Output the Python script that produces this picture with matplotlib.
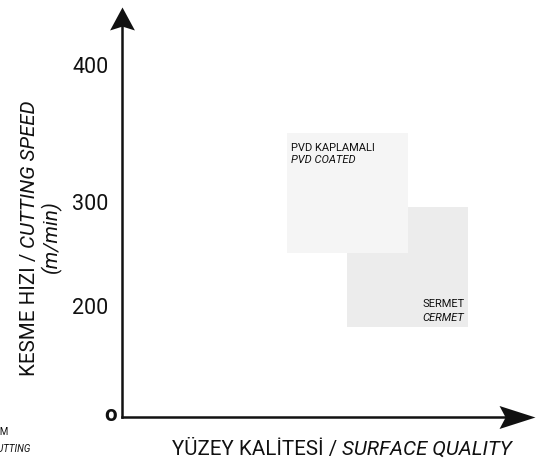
import numpy as np
import matplotlib.pyplot as plt
from matplotlib.path import Path

plt.rcParams['font.family'] = ['Roboto', 'DejaVu Sans']

# eksen degerleri (kesme hizi, m/min)
hiz_degerleri = [0, 200, 300, 400]
hiz_etiketleri = ['o', '200', '300', '400']

# malzeme bolgeleri (kalite 0-100, hiz m/min)
malzeme_tr = ['PVD KAPLAMALI', 'SERMET']
malzeme_en = ['PVD COATED', 'CERMET']
kalite_min = [41.2, 56.3]
kalite_max = [71.4, 86.6]
hiz_min = [253, 165.5]
hiz_max = [352.2, 296.9]

renkler = ['#f5f5f5', '#ececec']
koyu = '#111111'

# diyagram olceklenmemis: hiz ekseni parca parca dogrusal
hiz_knot = [-100, 0, 200, 300, 400, 600]
ekran_knot = [-51, 2, 108, 213, 349.5, 622.5]


def ileri(v):
    return np.interp(v, hiz_knot, ekran_knot)


def geri(d):
    return np.interp(d, ekran_knot, hiz_knot)


fig = plt.figure(figsize=(5.51, 4.59), dpi=100)
ax = fig.add_axes([0, 0, 1, 1])
ax.set_yscale('function', functions=(ileri, geri))
ax.set_xlim(-30.5, 107.25)
ax.set_ylim(float(geri(-42)), float(geri(417)))
ax.axis('off')

y0 = float(geri(0))

# bolgeler (arkadaki once)
for i in [1, 0]:
    ax.bar(kalite_min[i], hiz_max[i] - hiz_min[i], width=kalite_max[i] - kalite_min[i],
           bottom=hiz_min[i], align='edge', color=renkler[i], linewidth=0, zorder=1 + (1 - i))

ax.annotate(malzeme_tr[0], xy=(kalite_min[0], hiz_max[0]), xytext=(4, -18),
            textcoords='offset pixels', fontsize=8, va='baseline', ha='left', color=koyu, zorder=5)
ax.annotate(malzeme_en[0], xy=(kalite_min[0], hiz_max[0]), xytext=(4, -30),
            textcoords='offset pixels', fontsize=8, va='baseline', ha='left', style='italic',
            color=koyu, zorder=5)
ax.annotate(malzeme_tr[1], xy=(kalite_max[1], hiz_min[1]), xytext=(-4, 20),
            textcoords='offset pixels', fontsize=8, va='baseline', ha='right', color=koyu, zorder=5)
ax.annotate(malzeme_en[1], xy=(kalite_max[1], hiz_min[1]), xytext=(-4, 6.5),
            textcoords='offset pixels', fontsize=8, va='baseline', ha='right', style='italic',
            color=koyu, zorder=5)

# eksen cizgileri
y_ucu = float(geri(410))
x_ucu = 103.25
ax.plot([0, 0], [y0, float(geri(395))], color=koyu, lw=1.8, solid_capstyle='projecting', zorder=6)
ax.plot([0, x_ucu - 6], [y0, y0], color=koyu, lw=1.8, solid_capstyle='projecting', zorder=6)

# ok uclari (ici bos tabanli)
ok_sag = Path([(0, 0), (-1, 0.32), (-0.83, 0), (-1, -0.32), (0, 0)],
              [Path.MOVETO, Path.LINETO, Path.LINETO, Path.LINETO, Path.CLOSEPOLY])
ok_yukari = Path([(0, 0), (0.54, -1), (0, -0.83), (-0.54, -1), (0, 0)],
                 [Path.MOVETO, Path.LINETO, Path.LINETO, Path.LINETO, Path.CLOSEPOLY])
ax.plot([x_ucu], [y0], marker=ok_sag, markersize=51.8, color=koyu, mew=0, zorder=7)
ax.plot([0], [y_ucu], marker=ok_yukari, markersize=33.1, color=koyu, mew=0, zorder=7)

# hiz etiketleri
for v, et in zip(hiz_degerleri, hiz_etiketleri):
    if et == 'o':
        ax.text(-1.4, v, et, ha='right', va='center', fontsize=16, fontweight='bold', color=koyu)
    else:
        ax.text(-3.4, v, et, ha='right', va='center', fontsize=15.5, color=koyu)

# y ekseni basligi
t1 = fig.text(35 / 551, 1 - 376 / 459, 'KESME HIZI / ', rotation=90, rotation_mode='anchor',
              ha='left', va='baseline', fontsize=14.75, color=koyu)
ax.annotate('CUTTING SPEED', xy=(0.5, 1), xycoords=t1, rotation=90, ha='center', va='bottom',
            fontsize=14.75, style='italic', color=koyu)
fig.text(57 / 551, 1 - 236.5 / 459, '(m/min)', rotation=90, rotation_mode='anchor',
         ha='center', va='baseline', fontsize=14.75, style='italic', color=koyu)

# x ekseni basligi
t2 = fig.text(172 / 551, 1 - 455 / 459, 'YÜZEY KALİTESİ / ', ha='left', va='baseline',
              fontsize=14.75, color=koyu)
ax.annotate('SURFACE QUALITY', xy=(1, 0), xycoords=t2, ha='left', va='bottom',
            fontsize=14.75, style='italic', color=koyu)

# sol altta kesilmis not
fig.text(8.5 / 551, 1 - 435 / 459, 'KESİM', ha='right', va='baseline', fontsize=7, color=koyu)
fig.text(31 / 551, 1 - 452 / 459, 'CUTTING', ha='right', va='baseline', fontsize=7,
         style='italic', color=koyu)

fig.savefig('out.png', dpi=100, facecolor='white')
